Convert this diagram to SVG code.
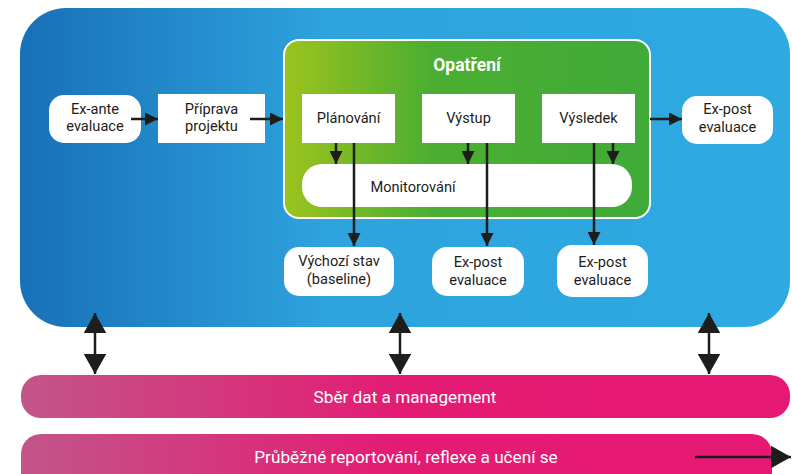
<svg xmlns="http://www.w3.org/2000/svg" width="792" height="474" viewBox="0 0 792 474">
<style>
text{font-family:Roboto,"Liberation Sans",sans-serif;}
.t{font-size:14.6px;fill:#1d1d1b;text-anchor:middle;}
.w{fill:#ffffff;}
.ln{stroke:#1d1d1b;stroke-width:2.5;fill:none;}
.bar{font-size:17.2px;fill:#ffffff;text-anchor:middle;}
</style>
<defs>
<linearGradient id="gBlue" x1="0" y1="0" x2="1" y2="0">
<stop offset="0" stop-color="#1870b7"/>
<stop offset="0.4" stop-color="#2ea3de"/>
<stop offset="1" stop-color="#2eaae2"/>
</linearGradient>
<linearGradient id="gGreen" x1="0" y1="0" x2="1" y2="0">
<stop offset="0" stop-color="#9cc31d"/>
<stop offset="0.4" stop-color="#4bae32"/>
<stop offset="1" stop-color="#40ab38"/>
</linearGradient>
<linearGradient id="gPink" x1="0" y1="0" x2="1" y2="0">
<stop offset="0" stop-color="#c35589"/>
<stop offset="0.5" stop-color="#e41b73"/>
<stop offset="1" stop-color="#e61874"/>
</linearGradient>
<marker id="ah" viewBox="0 0 10 10" refX="10" refY="5" markerWidth="5.2" markerHeight="5.2" orient="auto-start-reverse" markerUnits="strokeWidth">
<path d="M0,0 L10,5 L0,10 Z" fill="#1d1d1b"/>
</marker>
<marker id="ahb" viewBox="0 0 10 10" refX="10" refY="5" markerWidth="8" markerHeight="9" orient="auto-start-reverse" markerUnits="strokeWidth" preserveAspectRatio="none">
<path d="M0,0 L10,5 L0,10 Z" fill="#1d1d1b"/>
</marker>
</defs>

<g id="main">
<rect x="20" y="8" width="770" height="319" rx="46" ry="46" fill="url(#gBlue)"/>
</g>
<g id="opatreni">
<rect x="284" y="40" width="366" height="178" rx="15" ry="15" fill="url(#gGreen)" stroke="#ffffff" stroke-width="2"/>
<text x="467" y="71" style="font-size:17.5px;font-weight:bold;fill:#ffffff;text-anchor:middle">Opatření</text>
</g>

<g id="exante">
<rect x="49" y="95" width="92" height="48" rx="15" ry="15" class="w"/>
<text class="t" x="95" y="114">Ex-ante</text>
<text class="t" x="95" y="131">evaluace</text>
</g>
<g id="priprava">
<rect x="158" y="94" width="107" height="49" class="w"/>
<text class="t" x="211.5" y="114">Příprava</text>
<text class="t" x="211.5" y="131">projektu</text>
</g>
<g id="planovani">
<rect x="302" y="94" width="93" height="49" class="w"/>
<text class="t" x="348.5" y="123">Plánování</text>
</g>
<g id="vystup">
<rect x="422" y="94" width="93" height="49" class="w"/>
<text class="t" x="468.5" y="123">Výstup</text>
</g>
<g id="vysledek">
<rect x="542" y="94" width="93" height="49" class="w"/>
<text class="t" x="588.5" y="123">Výsledek</text>
</g>
<g id="monitorovani">
<rect x="302" y="164" width="330" height="43" rx="20" ry="20" class="w"/>
<text class="t" x="413" y="192">Monitorování</text>
</g>
<g id="expost-right">
<rect x="682" y="96" width="91" height="48" rx="15" ry="15" class="w"/>
<text class="t" x="727.5" y="114">Ex-post</text>
<text class="t" x="727.5" y="132">evaluace</text>
</g>
<g id="baseline">
<rect x="284" y="247" width="110" height="49" rx="15" ry="15" class="w"/>
<text class="t" x="339" y="266">Výchozí stav</text>
<text class="t" x="339" y="284">(baseline)</text>
</g>
<g id="expost-1">
<rect x="432" y="247" width="92" height="49" rx="15" ry="15" class="w"/>
<text class="t" x="478" y="267">Ex-post</text>
<text class="t" x="478" y="285">evaluace</text>
</g>
<g id="expost-2">
<rect x="557" y="245" width="91" height="52" rx="15" ry="15" class="w"/>
<text class="t" x="602.5" y="267">Ex-post</text>
<text class="t" x="602.5" y="285">evaluace</text>
</g>

<g id="sber">
<rect x="21" y="375" width="769" height="43" rx="20" ry="20" fill="url(#gPink)"/>
<text class="bar" x="405" y="403">Sběr dat a management</text>
</g>
<g id="reportovani">
<rect x="21" y="434" width="751" height="60" rx="20" ry="20" fill="url(#gPink)"/>
<text class="bar" x="406" y="463">Průběžné reportování, reflexe a učení se</text>
</g>

<g id="connectors">
<line class="ln" x1="131" y1="119" x2="158" y2="119" marker-end="url(#ah)"/>
<line class="ln" x1="250" y1="119" x2="283" y2="119" marker-end="url(#ah)"/>
<line class="ln" x1="650" y1="119" x2="682" y2="119" marker-end="url(#ah)"/>
<line class="ln" x1="336" y1="143" x2="336" y2="164" marker-end="url(#ah)"/>
<line class="ln" x1="354" y1="143" x2="354" y2="246" marker-end="url(#ah)"/>
<line class="ln" x1="468" y1="143" x2="468" y2="164" marker-end="url(#ah)"/>
<line class="ln" x1="487" y1="143" x2="487" y2="246" marker-end="url(#ah)"/>
<line class="ln" x1="594" y1="143" x2="594" y2="245" marker-end="url(#ah)"/>
<line class="ln" x1="613" y1="143" x2="613" y2="164" marker-end="url(#ah)"/>
<line class="ln" x1="95" y1="313" x2="95" y2="374" marker-start="url(#ahb)" marker-end="url(#ahb)"/>
<line class="ln" x1="400" y1="313" x2="400" y2="374" marker-start="url(#ahb)" marker-end="url(#ahb)"/>
<line class="ln" x1="709" y1="313" x2="709" y2="374" marker-start="url(#ahb)" marker-end="url(#ahb)"/>
<line class="ln" x1="695" y1="457" x2="791" y2="457" marker-end="url(#ahb)"/>
</g>
</svg>
